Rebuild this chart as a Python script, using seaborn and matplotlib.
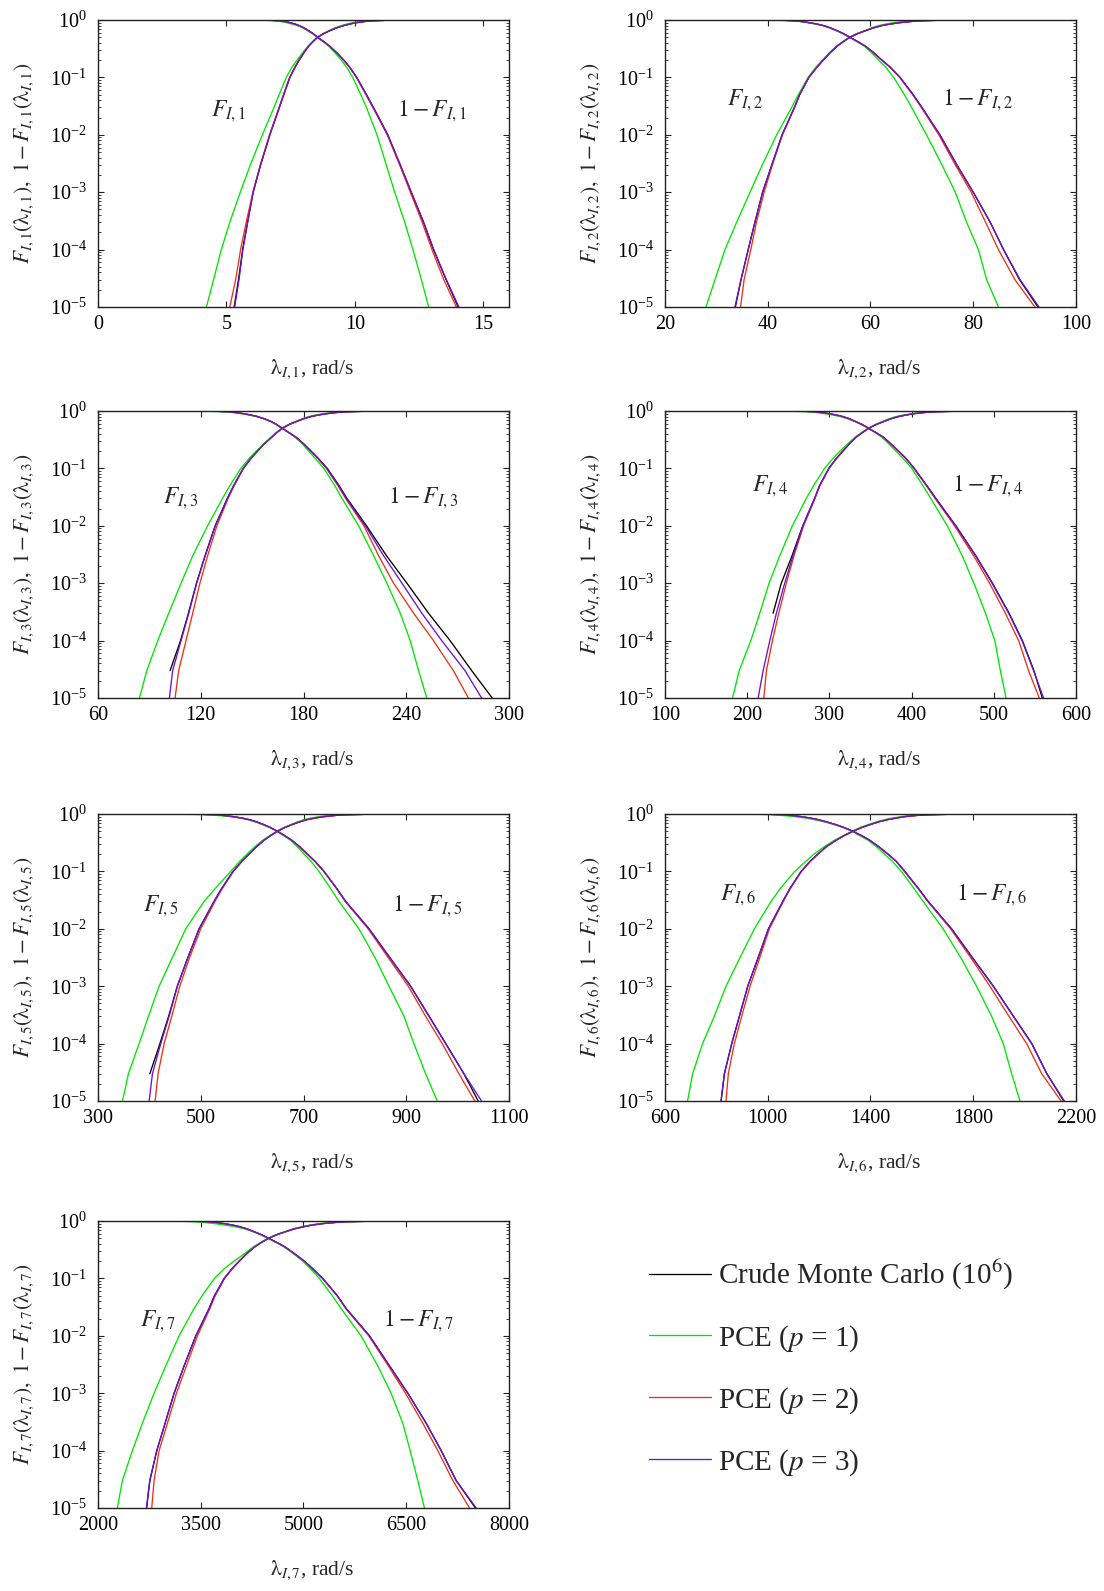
import numpy as np
import pandas as pd
import matplotlib
matplotlib.use("Agg")
import matplotlib.pyplot as plt
import seaborn as sns
from matplotlib.ticker import LogLocator, NullFormatter, FixedLocator
from matplotlib.lines import Line2D

# ---------------------------------------------------------------- data
# probability levels of the quantiles below (0 = smallest sample, 1 = largest)
LEVELS = [0, 1e-5, 3e-5, 1e-4, 3e-4, 1e-3, 3e-3, 1e-2, 3e-2, 0.05, 0.1, 0.15, 0.2, 0.27, 0.35, 0.42, 0.5,
          0.58, 0.65, 0.73, 0.8, 0.85, 0.9, 0.95, 0.97, 0.99, 0.997, 0.999, 0.9997, 0.9999, 0.99997,
          0.99999, 1]

SERIES = ["mc", "p1", "p2", "p3"]
LABELS = ["Crude Monte Carlo (10$^6$)", "PCE ($p$ = 1)", "PCE ($p$ = 2)", "PCE ($p$ = 3)"]
COLORS = ["#000000", "#00e600", "#ec3214", "#6a12d2"]
nan = np.nan

# mode 1 quantiles (rad/s)
M1_MC = [5.05, 5.30, 5.47, 5.63, 5.82, 6.04, 6.33, 6.69, 7.06, 7.23, 7.47, 7.67, 7.83, 8.02, 8.20, 8.37, 8.55,
         8.79, 9.02, 9.29, 9.57, 9.80, 10.07, 10.45, 10.72, 11.28, 11.76, 12.19, 12.67, 13.06, 13.55, 14.02, 14.9]
M1_P1 = [3.63, 4.22, 4.50, 4.80, 5.13, 5.54, 5.93, 6.40, 6.85, 7.05, 7.33, 7.55, 7.75, 7.97, 8.17, 8.35, 8.52,
         8.76, 8.98, 9.22, 9.47, 9.68, 9.92, 10.23, 10.45, 10.86, 11.22, 11.55, 11.94, 12.26, 12.59, 12.87, 13.3]
M1_P2 = [4.90, 5.13, 5.36, 5.55, 5.77, 6.03, 6.32, 6.68, 7.05, 7.22, 7.46, 7.66, 7.82, 8.01, 8.19, 8.36, 8.54,
         8.78, 9.01, 9.28, 9.56, 9.79, 10.06, 10.43, 10.70, 11.26, 11.74, 12.16, 12.62, 13.00, 13.46, 13.95, 15.03]
M1_P3 = [5.00, 5.32, 5.49, 5.64, 5.83, 6.04, 6.33, 6.69, 7.06, 7.23, 7.47, 7.67, 7.83, 8.02, 8.20, 8.37, 8.55,
         8.79, 9.02, 9.29, 9.57, 9.80, 10.07, 10.45, 10.72, 11.28, 11.77, 12.20, 12.68, 13.07, 13.56, 14.05, 15.0]

# mode 2
M2_MC = [32.5, 33.7, 34.8, 36.2, 37.5, 39.0, 40.8, 42.8, 45.2, 46.2, 48.0, 49.55, 50.8, 52.15, 53.5, 54.7, 56.0,
         57.5, 59.0, 60.6, 62.2, 63.85, 65.75, 68.3, 70.0, 73.5, 76.8, 80.0, 83.3, 85.9, 89.0, 92.6, 100.0]
M2_P1 = [25.2, 27.98, 29.73, 31.68, 33.95, 36.55, 38.95, 41.74, 44.66, 45.96, 47.85, 49.35, 50.65, 52.0, 53.35,
         54.6, 55.9, 57.35, 58.8, 60.2, 61.6, 63.0, 64.5, 66.6, 68.0, 70.9, 73.9, 76.5, 78.7, 81.0, 82.6, 84.9, 90.0]
M2_P2 = [33.0, 34.7, 35.4, 36.7, 37.8, 39.3, 40.9, 42.85, 45.2, 46.2, 48.0, 49.55, 50.8, 52.15, 53.5, 54.7, 56.0,
         57.5, 59.0, 60.6, 62.2, 63.8, 65.7, 68.2, 69.9, 73.3, 76.5, 79.6, 82.4, 84.9, 88.1, 92.0, 100.0]
M2_P3 = [32.3, 33.6, 34.8, 36.2, 37.5, 39.0, 40.8, 42.8, 45.2, 46.2, 48.0, 49.55, 50.8, 52.15, 53.5, 54.7, 56.0,
         57.5, 59.0, 60.6, 62.2, 63.85, 65.75, 68.3, 70.0, 73.5, 76.8, 80.0, 83.3, 85.9, 89.1, 92.8, 100.0]

# mode 3
M3_MC = [nan, nan, 102.1, 108.2, 112.8, 117.5, 122.5, 128.4, 135.5, 139.2, 144.8, 149.3, 153.1, 157.2, 161.4,
         164.3, 167.6, 171.5, 175.6, 180.0, 184.4, 188.6, 193.9, 200.8, 205.4, 216.8, 228.5, 240.4, 253.0, 265.6,
         278.2, 290.2, 300.0]
M3_P1 = [77.5, 84.2, 88.5, 94.9, 101.3, 108.5, 115.3, 124.0, 132.7, 137.0, 143.4, 148.3, 152.4, 156.8, 161.0,
         164.1, 167.4, 171.2, 175.0, 179.2, 183.0, 186.8, 191.9, 198.3, 202.5, 212.2, 221.0, 228.7, 236.5, 242.3,
         247.2, 252.0, 290.0]
M3_P2 = [100.0, 105.0, 107.1, 111.4, 115.3, 119.5, 124.0, 129.4, 136.0, 139.5, 145.0, 149.4, 153.2, 157.3, 161.5,
         164.4, 167.7, 171.5, 175.5, 179.8, 184.2, 188.3, 193.4, 200.1, 204.6, 215.3, 223.9, 232.6, 244.3, 255.9,
         267.5, 276.3, 300.0]
M3_P3 = [97.0, 101.7, 103.6, 108.5, 113.0, 117.6, 122.6, 128.5, 135.6, 139.2, 144.8, 149.3, 153.1, 157.2, 161.4,
         164.3, 167.6, 171.5, 175.5, 179.9, 184.3, 188.4, 193.6, 200.5, 205.0, 216.1, 226.8, 237.5, 249.1, 260.7,
         274.3, 284.0, 300.0]

# mode 4
M4_MC = [nan, nan, nan, nan, 231.5, 241.5, 254.5, 267.6, 282.0, 288.0, 299.3, 308.6, 316.3, 324.5, 332.4, 340.0,
         347.8, 356.6, 365.5, 374.5, 384.1, 393.1, 403.2, 418.6, 429.5, 453.8, 478.2, 498.4, 518.6, 534.8, 548.8,
         559.0, 600.0]
M4_P1 = [168.9, 182.2, 190.3, 204.4, 215.3, 226.6, 239.6, 254.9, 271.9, 280.7, 294.1, 304.5, 312.8, 322.5, 331.2,
         339.0, 347.0, 355.6, 363.8, 372.0, 380.9, 389.7, 400.2, 413.8, 423.3, 443.4, 461.6, 475.7, 489.9, 501.2,
         508.0, 514.9, 560.0]
M4_P2 = [210.0, 220.2, 223.4, 230.7, 238.4, 247.6, 256.9, 268.6, 282.5, 288.4, 299.5, 308.8, 316.4, 324.6, 332.5,
         340.1, 347.9, 356.6, 365.4, 374.4, 383.9, 392.8, 402.8, 418.0, 428.5, 452.3, 475.5, 494.8, 514.1, 530.2,
         542.3, 555.3, 600.0]
M4_P3 = [199.0, 213.3, 219.4, 227.5, 235.5, 245.6, 255.7, 267.8, 282.0, 288.0, 299.3, 308.6, 316.3, 324.5, 332.4,
         340.0, 347.8, 356.6, 365.5, 374.5, 384.1, 393.0, 403.1, 418.5, 429.3, 453.5, 477.8, 497.9, 518.1, 534.3,
         548.4, 560.5, 600.0]

# mode 5
M5_MC = [nan, nan, 401.0, 420.5, 437.5, 454.3, 474.0, 496.8, 525.9, 540.5, 562.9, 580.0, 594.0, 608.6, 623.2,
         635.8, 649.1, 663.3, 677.0, 692.3, 707.5, 722.3, 739.9, 765.0, 782.0, 827.6, 869.8, 908.6, 944.5, 977.0,
         1012.0, 1040.0, 1100.0]
M5_P1 = [315.2, 347.6, 359.3, 380.0, 398.2, 419.0, 443.6, 470.8, 506.5, 527.9, 558.3, 576.0, 590.0, 605.5, 620.8,
         634.5, 648.0, 661.5, 674.5, 688.0, 701.0, 714.6, 730.1, 753.0, 769.0, 807.9, 840.4, 866.3, 895.5, 914.9,
         937.6, 960.3, 1040.0]
M5_P2 = [405.0, 411.2, 417.0, 428.7, 443.6, 459.2, 477.3, 500.0, 527.5, 541.8, 563.5, 580.4, 594.3, 608.8, 623.4,
         635.9, 649.2, 663.3, 676.9, 692.2, 707.2, 722.0, 739.5, 764.5, 781.2, 825.8, 866.5, 903.9, 937.6, 970.0,
         1002.4, 1033.5, 1100.0]
M5_P3 = [390.0, 399.5, 406.0, 422.2, 438.4, 454.6, 474.1, 496.8, 525.9, 540.5, 562.9, 580.0, 594.0, 608.6, 623.2,
         635.8, 649.1, 663.3, 677.0, 692.3, 707.5, 722.3, 739.9, 765.0, 782.0, 827.4, 869.5, 908.4, 944.1, 976.5,
         1012.2, 1046.5, 1100.0]

# mode 6
M6_MC = [795.0, 818.5, 831.5, 860.0, 889.8, 922.2, 961.2, 1002.8, 1058.6, 1086.0, 1130.0, 1165.0, 1195.0, 1228.0,
         1266.6, 1297.0, 1331.6, 1365.0, 1396.6, 1432.0, 1468.1, 1500.1, 1533.3, 1587.0, 1624.4, 1715.6, 1800.2,
         1878.5, 1956.5, 2028.0, 2086.5, 2152.0, 2200.0]
M6_P1 = [636.0, 687.9, 707.4, 746.4, 791.9, 837.5, 889.5, 948.0, 1013.0, 1048.0, 1105.0, 1148.0, 1180.0, 1220.0,
         1260.0, 1294.0, 1327.0, 1358.0, 1390.0, 1423.0, 1455.0, 1485.0, 1520.0, 1570.0, 1604.7, 1682.7, 1754.2,
         1812.7, 1871.3, 1916.8, 1949.3, 1981.8, 2150.0]
M6_P2 = [815.0, 837.5, 846.6, 870.0, 898.6, 931.1, 967.5, 1006.5, 1060.5, 1087.5, 1131.0, 1166.0, 1195.5, 1228.5,
         1267.0, 1297.3, 1331.8, 1365.0, 1396.5, 1431.8, 1467.8, 1499.6, 1532.5, 1586.0, 1622.5, 1712.0, 1793.5,
         1864.8, 1938.9, 2007.8, 2066.3, 2141.7, 2200.0]
M6_P3 = [792.0, 817.9, 830.9, 859.6, 889.5, 922.0, 961.0, 1002.6, 1058.5, 1086.0, 1130.0, 1165.0, 1195.0, 1228.0,
         1266.6, 1297.0, 1331.6, 1365.0, 1396.6, 1432.0, 1468.1, 1500.0, 1533.2, 1587.0, 1624.2, 1715.2, 1799.7,
         1877.8, 1955.8, 2027.3, 2085.8, 2154.7, 2200.0]

# mode 7
M7_MC = [2660, 2710, 2757, 2858.5, 2980, 3111.5, 3257.5, 3428, 3622.8, 3700, 3842.1, 3962, 4061.4, 4171, 4280.7,
         4381, 4490, 4615, 4735, 4867, 5011.7, 5127, 5279.7, 5493, 5621, 5962.5, 6255, 6523, 6791, 7010, 7229,
         7510, 8000]
M7_P1 = [1950, 2282.6, 2355.7, 2502.0, 2648.0, 2818.7, 2989.3, 3184.2, 3403.5, 3520, 3700, 3850, 3985, 4140, 4262,
         4370, 4478, 4605, 4725, 4850, 4990, 5095, 5231, 5420, 5547.8, 5840.2, 6083.8, 6278.8, 6449.3, 6556.5,
         6668.6, 6766.0, 7400]
M7_P2 = [2740, 2784.6, 2818.7, 2891.8, 3013.6, 3145.2, 3291.4, 3452.2, 3635.0, 3712, 3848.0, 3966, 4064.0, 4173,
         4282.0, 4382, 4491, 4615, 4735, 4866, 5010.5, 5125, 5277.5, 5490, 5615.0, 5952.0, 6238.0, 6488.0, 6741.7,
         6961.0, 7180.3, 7424.0, 8000]
M7_P3 = [2650, 2706.6, 2755.4, 2857.7, 2979.5, 3111.1, 3257.3, 3427.9, 3622.8, 3700, 3842.1, 3962, 4061.4, 4171,
         4280.7, 4381, 4490, 4615, 4735, 4867, 5011.7, 5127, 5279.7, 5493, 5620.9, 5962.0, 6254.4, 6522.4, 6790.4,
         7009.7, 7229.0, 7521.4, 8000]

MODES = [
    [M1_MC, M1_P1, M1_P2, M1_P3],
    [M2_MC, M2_P1, M2_P2, M2_P3],
    [M3_MC, M3_P1, M3_P2, M3_P3],
    [M4_MC, M4_P1, M4_P2, M4_P3],
    [M5_MC, M5_P1, M5_P2, M5_P3],
    [M6_MC, M6_P1, M6_P2, M6_P3],
    [M7_MC, M7_P1, M7_P2, M7_P3],
]

XLIMS = [(0, 16), (20, 100), (60, 300), (100, 600), (300, 1100), (600, 2200), (2000, 8000)]
XTICKS = [[0, 5, 10, 15], [20, 40, 60, 80, 100], [60, 120, 180, 240, 300],
          [100, 200, 300, 400, 500, 600], [300, 500, 700, 900, 1100],
          [600, 1000, 1400, 1800, 2200], [2000, 3500, 5000, 6500, 8000]]
YTICKS = [1e-5, 1e-4, 1e-3, 1e-2, 1e-1, 1e0]

# ---------------------------------------------------------------- layout (pixels)
W, H = 1104, 1591
BOXES = [(98, 20, 509, 307), (665, 20, 1076, 307),
         (98, 411, 509, 698), (665, 411, 1076, 698),
         (98, 814, 509, 1101), (665, 814, 1076, 1101),
         (98, 1221, 509, 1508)]
# (x, baseline y) in axes fraction for "F" and "1 - F" annotations
ANN_F = [(0.275, 0.663), (0.150, 0.704), (0.157, 0.678), (0.212, 0.719),
         (0.110, 0.660), (0.134, 0.700), (0.102, 0.632)]
ANN_S = [(0.728, 0.663), (0.675, 0.704), (0.706, 0.678), (0.699, 0.719),
         (0.715, 0.660), (0.708, 0.700), (0.694, 0.632)]

sns.set_theme(style="ticks")
plt.rcParams.update({
    "font.family": ["Liberation Serif", "DejaVu Serif"],
    "mathtext.fontset": "stix",
    "axes.linewidth": 1.0,
    "axes.edgecolor": "#222222",
    "xtick.direction": "in",
    "ytick.direction": "in",
    "xtick.top": True,
    "ytick.right": True,
    "xtick.major.size": 4,
    "ytick.major.size": 4,
    "ytick.minor.size": 2,
    "xtick.major.width": 0.8,
    "ytick.major.width": 0.8,
    "ytick.minor.width": 0.6,
    "xtick.labelsize": 14.5,
    "ytick.labelsize": 14.5,
    "xtick.major.pad": 6,
    "ytick.major.pad": 8,
    "xtick.color": "#222222",
    "ytick.color": "#222222",
    "xtick.labelcolor": "black",
    "ytick.labelcolor": "black",
})

fig = plt.figure(figsize=(W / 100, H / 100), dpi=100)
fig.patch.set_facecolor("white")

levels = np.array(LEVELS, dtype=float)

for k, (series_vals, box) in enumerate(zip(MODES, BOXES)):
    l, t, r, b = box
    ax = fig.add_axes([l / W, 1 - b / H, (r - l) / W, (b - t) / H])
    ax.set_facecolor("white")
    ax.set_yscale("log")
    rows = []
    for name, vals in zip(SERIES, series_vals):
        v = np.array(vals, dtype=float)
        # distribution function F
        for xv, pv in zip(v[1:], levels[1:]):
            rows.append((xv, pv, name, "F"))
        # complementary function 1 - F
        for xv, pv in zip(v[:-1], 1.0 - levels[:-1]):
            rows.append((xv, pv, name, "S"))
    df = pd.DataFrame(rows, columns=["x", "p", "series", "curve"]).dropna()
    sns.lineplot(data=df, x="x", y="p", hue="series", units="curve",
                 estimator=None, sort=False, hue_order=SERIES,
                 palette=dict(zip(SERIES, COLORS)), legend=False,
                 linewidth=0.95, ax=ax)
    ax.set_xlim(*XLIMS[k])
    ax.set_ylim(1e-5, 1.0)
    ax.xaxis.set_major_locator(FixedLocator(XTICKS[k]))
    ax.set_xticklabels([str(v) for v in XTICKS[k]])
    ax.yaxis.set_major_locator(FixedLocator(YTICKS))
    ax.yaxis.set_minor_locator(LogLocator(base=10, subs=np.arange(2, 10), numticks=20))
    ax.yaxis.set_minor_formatter(NullFormatter())
    ax.set_yticklabels([r"$\mathdefault{10^{%d}}$" % e for e in range(-5, 1)])
    for s in ax.spines.values():
        s.set_visible(True)
        s.set_color("#222222")
    n = k + 1
    ax.set_xlabel(r"$\mathrm{\lambda}_{I,%d}$, rad/s" % n, fontsize=15.5)
    ax.set_ylabel(r"$F_{I,%d}(\mathrm{\lambda}_{I,%d}),\ 1-F_{I,%d}(\mathrm{\lambda}_{I,%d})$" % (n, n, n, n),
                  fontsize=15.5)
    ax.xaxis.set_label_coords(0.52, -0.175)
    ax.yaxis.set_label_coords(-0.152, 0.5)
    fx, fy = ANN_F[k]
    sx, sy = ANN_S[k]
    ax.text(fx, fy, r"$F_{I,%d}$" % n, transform=ax.transAxes, fontsize=17,
            ha="left", va="baseline")
    ax.text(sx, sy, r"$1 - F_{I,%d}$" % n, transform=ax.transAxes, fontsize=17,
            ha="left", va="baseline")

handles = [Line2D([], [], color=c, lw=0.95) for c in COLORS]
fig.legend(handles, LABELS, loc="upper left", bbox_to_anchor=(649 / W, 1 - 1258 / H),
           frameon=False, fontsize=21, handlelength=2.14, handletextpad=0.24,
           labelspacing=1.07, borderpad=0, borderaxespad=0)

fig.savefig("out.png", dpi=100, facecolor="white")
